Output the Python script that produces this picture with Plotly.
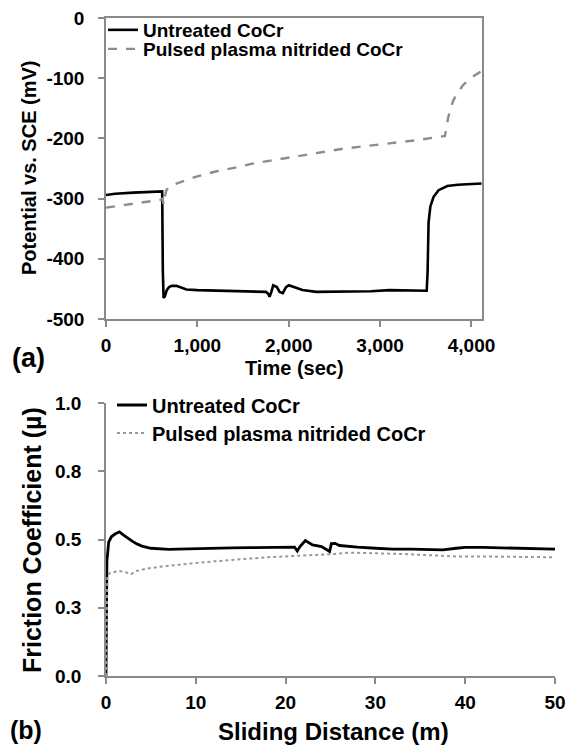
import plotly.graph_objects as go

# ---------------- (a) open-circuit potential ----------------
time_untreated = [0, 100, 300, 500, 615, 622, 630, 645, 665, 690, 720, 770, 820, 880, 1000, 1200,
                  1400, 1600, 1750, 1775, 1790, 1810, 1830, 1870, 1900, 1935, 1970, 2000, 2050,
                  2150, 2300, 2500, 2700, 2900, 3100, 3300, 3450, 3510, 3520, 3530, 3550, 3585,
                  3640, 3735, 3850, 3950, 4110]
pot_untreated = [-294, -292, -290, -289, -288, -420, -465, -462, -452, -447, -445, -445, -448, -451,
                 -452, -453, -453, -455, -455, -458, -463, -455, -444, -447, -455, -457, -447, -444,
                 -447, -452, -455, -455, -455, -454, -452, -452, -453, -453, -420, -340, -313, -297,
                 -286, -279, -277, -276, -275]

time_nitrided = [0, 200, 400, 600, 620, 630, 640, 660, 700, 800, 900, 1000, 1200, 1400, 1600, 1800,
                 2000, 2300, 2600, 3000, 3400, 3710, 3725, 3745, 3800, 3850, 3910, 4000, 4110]
pot_nitrided = [-315, -311, -306, -302, -300, -310, -300, -286, -279, -273, -268, -263, -255, -249,
                -242, -237, -232, -224, -217, -210, -203, -196, -185, -165, -137, -124, -111, -99, -88]

pot_ticks = [0, -100, -200, -300, -400, -500]
pot_ticktext = ["0", "-100", "-200", "-300", "-400", "-500"]
time_ticks = [0, 1000, 2000, 3000, 4000]
time_ticktext = ["0", "1,000", "2,000", "3,000", "4,000"]

# ---------------- (b) friction coefficient ----------------
dist_untreated = [0, 0.1, 0.3, 0.6, 1.0, 1.5, 2.0, 2.5, 3.0, 3.5, 4.0, 5, 6, 7, 8, 10, 12, 14, 16,
                  18, 20, 21, 21.3, 21.6, 22.2, 22.5, 23, 24, 24.6, 24.9, 25.1, 25.5, 26, 27, 28,
                  30, 32, 34, 36, 37.5, 39, 40, 42, 44, 46, 48, 50]
mu_untreated = [0, 0.42, 0.49, 0.51, 0.52, 0.528, 0.515, 0.503, 0.492, 0.483, 0.476, 0.468, 0.466,
                0.464, 0.465, 0.467, 0.468, 0.469, 0.47, 0.471, 0.472, 0.472, 0.458, 0.474, 0.496,
                0.49, 0.48, 0.474, 0.46, 0.456, 0.485, 0.486, 0.478, 0.474, 0.472, 0.468, 0.465,
                0.465, 0.463, 0.462, 0.468, 0.471, 0.471, 0.47, 0.468, 0.468, 0.465]

dist_nitrided = [0, 0.15, 0.5, 1.5, 2.2, 2.8, 3.4, 4.5, 6, 8, 10, 12, 14, 16, 18, 20, 22, 24, 25.5,
                 27, 29, 31, 33, 35, 37, 39, 41, 43, 45, 47, 50]
mu_nitrided = [0, 0.37, 0.378, 0.385, 0.38, 0.373, 0.385, 0.393, 0.4, 0.408, 0.414, 0.42, 0.426,
               0.43, 0.435, 0.438, 0.44, 0.442, 0.447, 0.452, 0.451, 0.449, 0.447, 0.444, 0.44,
               0.438, 0.438, 0.437, 0.437, 0.436, 0.435]

mu_ticks = [0, 0.25, 0.5, 0.75, 1.0]
mu_ticktext = ["0.0", "0.3", "0.5", "0.8", "1.0"]
dist_ticks = [0, 10, 20, 30, 40, 50]

series_names = ["Untreated CoCr", "Pulsed plasma nitrided CoCr"]

FONT = "Liberation Sans, Arial, sans-serif"
OFF = 8                      # page body margin of the browser
W, H = 579 - OFF, 752 - OFF  # figure size so it exactly fills the window
AXCOL = "#8a8a8a"


def px(x):
    return (x - OFF) / W


def py(y):
    return 1 - (y - OFF) / H


fig = go.Figure()

fig.add_trace(go.Scatter(x=time_untreated, y=pot_untreated, mode="lines", name=series_names[0],
                         line=dict(color="black", width=2.6), xaxis="x", yaxis="y", legend="legend"))
fig.add_trace(go.Scatter(x=time_nitrided, y=pot_nitrided, mode="lines", name=series_names[1],
                         line=dict(color="#8c8c8c", width=2.4, dash="dash"), xaxis="x", yaxis="y",
                         legend="legend2"))
fig.add_trace(go.Scatter(x=dist_untreated, y=mu_untreated, mode="lines", name=series_names[0],
                         line=dict(color="black", width=2.8), xaxis="x2", yaxis="y2", legend="legend3"))
fig.add_trace(go.Scatter(x=dist_nitrided, y=mu_nitrided, mode="lines", name=series_names[1],
                         line=dict(color="#999999", width=2, dash="dot"), xaxis="x2", yaxis="y2",
                         legend="legend4"))

tickfont = dict(family=FONT, size=19, color="black", weight="bold")
common_axis = dict(showgrid=False, zeroline=False, showline=True, linecolor=AXCOL, linewidth=1.5,
                   ticks="outside", ticklen=6, tickwidth=1.5, tickcolor=AXCOL, tickfont=tickfont,
                   tickmode="array", automargin=False, ticklabeloverflow="allow")

legfont = dict(family=FONT, size=20, color="black", weight="bold")
legfont_top = dict(family=FONT, size=19, color="black", weight="bold")


def leg(x, y, font=legfont):
    return dict(x=px(x), y=py(y), xanchor="left", yanchor="middle", bgcolor="rgba(0,0,0,0)",
                borderwidth=0, font=font, itemwidth=30)


fig.update_layout(
    width=W, height=H, autosize=False,
    margin=dict(l=0, r=0, t=0, b=0, autoexpand=False),
    paper_bgcolor="white", plot_bgcolor="white",
    showlegend=True,
    xaxis=dict(common_axis, domain=[px(106), px(482)], range=[0, 4115], anchor="y",
               tickvals=time_ticks, ticktext=time_ticktext, mirror=True, ticklabelstandoff=2),
    yaxis=dict(common_axis, domain=[py(319), py(18)], range=[-500, 0], anchor="x",
               tickvals=pot_ticks, ticktext=pot_ticktext, mirror=True, ticklabelstandoff=10),
    xaxis2=dict(common_axis, domain=[px(106), px(555)], range=[0, 50], anchor="y2",
                tickvals=dist_ticks, ticktext=[str(v) for v in dist_ticks], ticklabelstandoff=2),
    yaxis2=dict(common_axis, domain=[py(676), py(403)], range=[0, 1.0], anchor="x2",
                tickvals=mu_ticks, ticktext=mu_ticktext, ticklabelstandoff=13),
    legend=leg(103, 30, legfont_top),
    legend2=leg(103, 49, legfont_top),
    legend3=leg(112, 405),
    legend4=leg(112, 433),
)

ann = []


def text(t, x, y, size, angle=0):
    ann.append(dict(text=t, x=px(x), y=py(y), xref="paper", yref="paper", showarrow=False,
                    xanchor="center", yanchor="middle", textangle=angle,
                    font=dict(family=FONT, size=size, color="black", weight="bold")))


text("Potential vs. SCE (mV)", 29, 168, 20, -90)
text("Time (sec)", 294, 368, 20)
text("(a)", 28, 358, 27)
text("Friction Coefficient (µ)", 32, 540, 25, -90)
text("Sliding Distance (m)", 333, 731, 24)
text("(b)", 26, 730, 25)

fig.update_layout(annotations=ann)

fig.write_html("out.html")
